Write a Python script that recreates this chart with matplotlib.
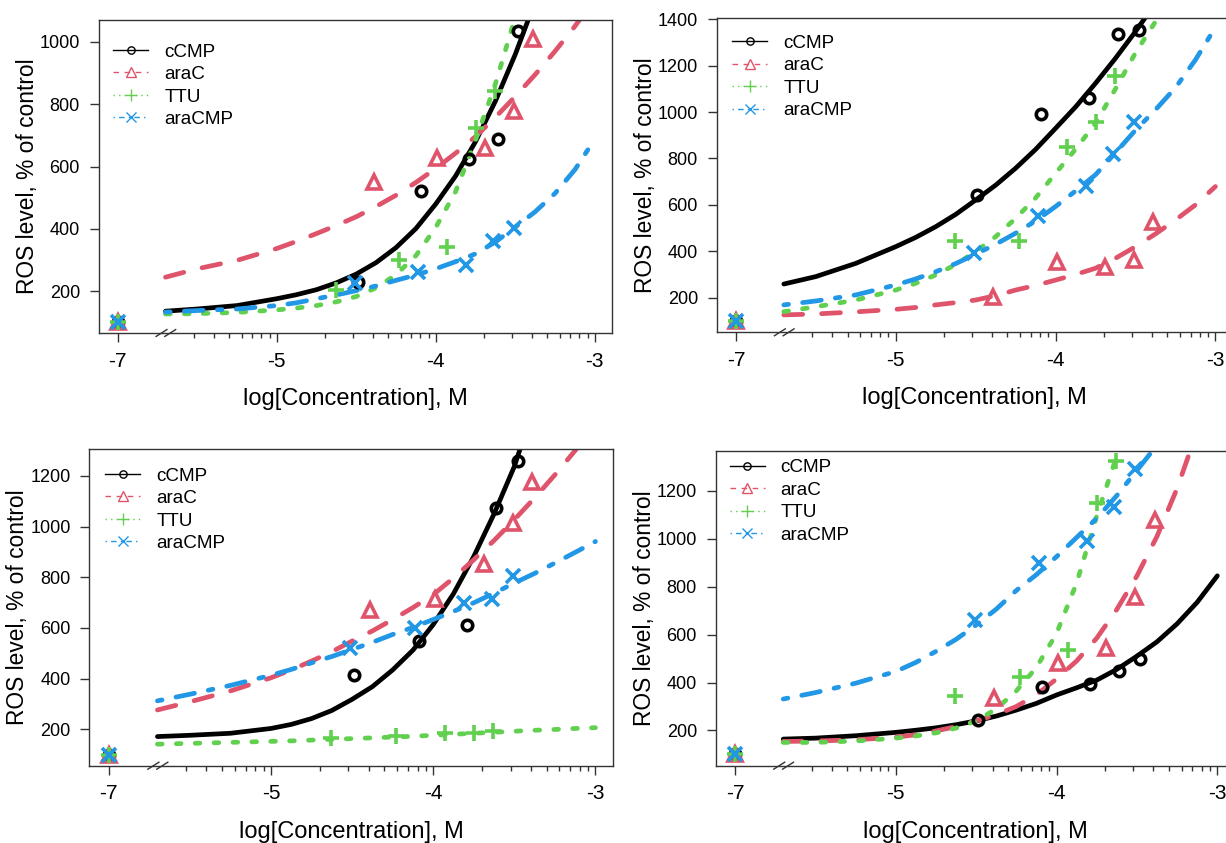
import numpy as np
import matplotlib
matplotlib.use("Agg")
import matplotlib.pyplot as plt
from matplotlib.lines import Line2D

plt.rcParams['font.family'] = ['Liberation Sans', 'DejaVu Sans']

W, H = 1226, 843

# compounds, styles from R palette
compounds = ["cCMP", "araC", "TTU", "araCMP"]
colors = ["#000000", "#DF536B", "#61D04F", "#2297E6"]
markers = ["o", "^", "+", "x"]
marker_sizes = [7.5, 10.5, 12, 10.5]
dash_styles = ["-", (0, (4, 4)), (0, (1, 3)), (0, (1, 3, 4, 3))]

# log concentrations of the tested doses (per compound)
dose_cCMP = [-4.49, -4.09, -3.79, -3.61, -3.48]
dose_araC = [-4.39, -3.99, -3.69, -3.51, -3.39]
dose_TTU = [-4.63, -4.23, -3.93, -3.75, -3.63]
dose_araCMP = [-4.51, -4.11, -3.81, -3.64, -3.51]
doses = [dose_cCMP, dose_araC, dose_TTU, dose_araCMP]

# untreated control (plotted at the break position, labelled -7)
control_pos = -6.0
control_value = 100

curve_x = [-5.7, -5.5, -5.25, -5.0, -4.875, -4.75, -4.625, -4.5, -4.375, -4.25,
           -4.125, -4.0, -3.875, -3.75, -3.625, -3.5, -3.375, -3.25, -3.125, -3.0]

# panel A (top left)
a_points = [[229, 522, 623, 688, 1034],
            [551, 626, 659, 777, 1008],
            [205, 301, 342, 725, 841],
            [225, 261, 283, 361, 404]]
a_curves = [[136, 143, 154, 176, 189, 205, 227, 255, 292, 340, 401, 480, 570, 680, 810, 960, 1130, 1330, 1560, 1830],
            [245, 272, 299, 337, 360, 385, 411, 439, 472, 508, 549, 594, 643, 696, 758, 825, 895, 970, 1050, 1140],
            [127, 128, 132, 140, 146, 154, 166, 183, 211, 253, 314, 405, 520, 685, 865, 1080, 1350, 1700, 2100, 2600],
            [133, 138, 143, 154, 163, 176, 188, 202, 217, 235, 252, 272, 295, 320, 358, 406, 455, 514, 590, 688]]

# panel B (top right)
b_points = [[643, 991, 1062, 1335, 1354],
            [205, 355, 334, 363, 528],
            [446, 446, 851, 959, 1156],
            [391, 552, 683, 820, 959]]
b_curves = [[259, 291, 348, 420, 460, 506, 559, 621, 685, 758, 839, 930, 1022, 1124, 1232, 1347, 1470, 1600, 1740, 1900],
            [126, 130, 139, 150, 158, 169, 179, 190, 209, 233, 253, 276, 300, 327, 370, 420, 475, 535, 600, 679],
            [140, 161, 190, 233, 262, 298, 343, 399, 463, 542, 630, 736, 840, 952, 1100, 1255, 1390, 1560, 1800, 2100],
            [169, 186, 212, 255, 281, 312, 347, 388, 430, 478, 531, 593, 660, 730, 825, 922, 1010, 1105, 1225, 1365]]

# panel C (bottom left)
c_points = [[413, 550, 611, 1075, 1260],
            [672, 712, 851, 1015, 1174],
            [167, 174, 187, 187, 193],
            [521, 601, 698, 715, 803]]
c_curves = [[171, 176, 184, 203, 219, 242, 274, 318, 368, 434, 512, 613, 735, 882, 1050, 1237, 1480, 1800, 2200, 2600],
            [276, 308, 351, 403, 434, 469, 506, 548, 588, 633, 680, 731, 797, 869, 945, 1027, 1113, 1204, 1300, 1420],
            [141, 144, 148, 152, 154, 157, 160, 163, 166, 169, 172, 176, 180, 184, 188, 192, 196, 199, 203, 206],
            [312, 338, 373, 413, 436, 462, 487, 515, 543, 574, 602, 633, 665, 699, 737, 777, 815, 856, 898, 941]]

# panel D (bottom right)
d_points = [[245, 383, 393, 446, 497],
            [335, 481, 543, 758, 1078],
            [344, 425, 536, 1150, 1325],
            [662, 900, 989, 1131, 1290]]
d_curves = [[164, 168, 178, 192, 201, 211, 224, 240, 260, 285, 313, 348, 378, 410, 455, 510, 570, 645, 735, 845],
            [154, 156, 161, 172, 182, 198, 216, 240, 266, 300, 349, 415, 490, 585, 705, 845, 1010, 1210, 1450, 1900],
            [150, 150, 156, 168, 177, 190, 210, 240, 290, 365, 463, 605, 815, 1095, 1345, 1800, 2400, 3200, 4200, 5500],
            [331, 358, 397, 446, 484, 530, 580, 640, 706, 784, 850, 925, 1005, 1085, 1180, 1285, 1390, 1520, 1680, 1850]]

xtick_pos = [-6, -5, -4, -3]
xtick_labels = ["-7", "-5", "-4", "-3"]

# panel boxes in pixels: left, right, top, bottom; legend offsets
panels = [
    dict(box=(98.7, 612.3, 20, 333), ylim=(66, 1070), yticks=[200, 400, 600, 800, 1000],
         pts=a_points, crv=a_curves, leg=(14.5, 29.3)),
    dict(box=(716.7, 1233, 18.3, 332.3), ylim=(51, 1404), yticks=list(range(200, 1401, 200)),
         pts=b_points, crv=b_curves, leg=(15.5, 22.4)),
    dict(box=(89.3, 613.3, 449, 765.7), ylim=(56, 1306), yticks=list(range(200, 1201, 200)),
         pts=c_points, crv=c_curves, leg=(16, 24.3)),
    dict(box=(715.7, 1235, 450.7, 765.7), ylim=(53, 1367), yticks=list(range(200, 1201, 200)),
         pts=d_points, crv=d_curves, leg=(14, 14.3)),
]

minor = []
for dec in [-6, -5, -4]:
    for k in range(2, 10):
        if dec == -6 and k == 2:
            continue
        minor.append(dec + np.log10(k))

fig = plt.figure(figsize=(W / 100, H / 100), dpi=100)

for p in panels:
    l, r, t, b = p['box']
    ax = fig.add_axes([l / W, 1 - b / H, (r - l) / W, (b - t) / H])
    ax.set_xlim(-6.12, -2.89)
    ax.set_ylim(*p['ylim'])

    for i in range(4):
        ax.plot(curve_x, p['crv'][i], color=colors[i], lw=3.4,
                linestyle=dash_styles[i], dash_capstyle='round',
                solid_capstyle='round', solid_joinstyle='round', zorder=2)
        ax.plot(doses[i], p['pts'][i], linestyle='none', marker=markers[i],
                ms=marker_sizes[i], mfc='none', mec=colors[i], mew=2.6, zorder=3)
    for i in range(4):
        ax.plot([control_pos], [control_value], linestyle='none', marker=markers[i],
                ms=marker_sizes[i], mfc='none', mec=colors[i], mew=2.6, zorder=3,
                clip_on=False)

    # axis break marks
    trans = ax.get_xaxis_transform()
    for xb in [-5.725, -5.67]:
        ax.plot([xb - 0.034, xb + 0.034], [-0.011, 0.011], transform=trans,
                color='#333333', lw=1, clip_on=False)

    ax.set_xticks(xtick_pos)
    ax.set_xticklabels(xtick_labels)
    ax.set_xticks(minor, minor=True)
    ax.set_yticks(p['yticks'])
    ax.tick_params(axis='both', which='major', length=6.5, width=1, pad=7,
                   color='#333333')
    ax.tick_params(axis='x', which='major', labelsize=15)
    ax.tick_params(axis='y', which='major', labelsize=13)
    ax.tick_params(axis='x', which='minor', length=3.6, width=1, color='#333333')
    for s in ax.spines.values():
        s.set_color('#333333')
        s.set_linewidth(1)

    wpx, hpx = r - l, b - t
    ax.set_xlabel("log[Concentration], M", fontsize=17)
    ax.xaxis.set_label_coords(0.5, -55 / hpx)
    ax.set_ylabel("ROS level, % of control", fontsize=16.4)
    ax.yaxis.set_label_coords(-60 / wpx, 0.5)

    handles = []
    for i in range(4):
        handles.append(Line2D([], [], color=colors[i], lw=1, linestyle=dash_styles[i],
                              marker=markers[i], ms=marker_sizes[i] * 0.7, mfc='none',
                              mew=1))
    lx, ly = p['leg']
    ax.legend(handles, compounds, loc='upper left',
              bbox_to_anchor=(lx / wpx, 1 - (ly - 6) / hpx),
              frameon=False, borderaxespad=0, borderpad=0, fontsize=13.6,
              handlelength=1.85, handletextpad=0.85, labelspacing=0.28)

fig.savefig("out.png", dpi=100)
